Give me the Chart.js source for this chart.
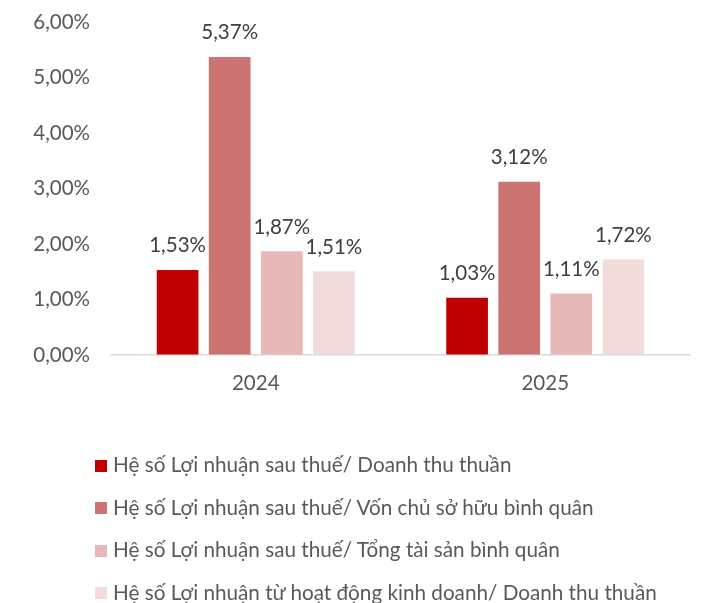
<!DOCTYPE html>
<html>
<head>
<meta charset="utf-8">
<script src="https://cdn.jsdelivr.net/npm/chart.js@4.4.1/dist/chart.umd.min.js"></script>
<style>
  html, body { margin: 0; padding: 0; background: #fff; }
  #wrap { position: relative; width: 706px; height: 603px; }
  #legend { position: absolute; left: 95px; top: 443px; font-family: Lato, sans-serif; font-size: 20.7px; color: #595959; }
  .item { height: 42.5px; line-height: 42.5px; white-space: nowrap; }
  .box { display: inline-block; width: 12px; height: 12px; margin-right: 6px; vertical-align: middle; position: relative; top: -1px; }
</style>
</head>
<body>
<div id="wrap">
  <canvas id="chart" width="706" height="603"></canvas>
  <div id="legend"></div>
</div>
<script>
// =========================
// DATA
// =========================
const years = ["2024", "2025"];

const seriesNames = [
  "Hệ số Lợi nhuận sau thuế/ Doanh thu thuần",
  "Hệ số Lợi nhuận sau thuế/ Vốn chủ sở hữu bình quân",
  "Hệ số Lợi nhuận sau thuế/ Tổng tài sản bình quân",
  "Hệ số Lợi nhuận từ hoạt động kinh doanh/ Doanh thu thuần"
];

const profitOnRevenue = [1.53, 1.03];
const profitOnEquity = [5.37, 3.12];
const profitOnAssets = [1.87, 1.11];
const operatingOnRevenue = [1.51, 1.72];

const colors = ["#C00000", "#CD7371", "#E6B8B7", "#F2DCDB"];

const fmt = v => v.toFixed(2).replace(".", ",") + "%";
const FONT = "Lato";
const FONT_SIZE = 20.5;

// =========================
// VALUE LABELS ABOVE BARS
// =========================
const valueLabels = {
  id: "valueLabels",
  afterDatasetsDraw(chart) {
    const ctx = chart.ctx;
    ctx.save();
    ctx.font = FONT_SIZE + "px " + FONT;
    ctx.fillStyle = "#404040";
    ctx.textAlign = "center";
    ctx.textBaseline = "bottom";
    chart.data.datasets.forEach((ds, i) => {
      chart.getDatasetMeta(i).data.forEach((bar, j) => {
        ctx.fillText(fmt(ds.data[j]), bar.x, bar.y - 14);
      });
    });
    ctx.restore();
  }
};

// =========================
// RENDER CHART
// =========================
const allSeries = [profitOnRevenue, profitOnEquity, profitOnAssets, operatingOnRevenue];

new Chart(document.getElementById("chart"), {
  type: "bar",
  data: {
    labels: years,
    datasets: allSeries.map((d, i) => ({
      label: seriesNames[i],
      data: d,
      backgroundColor: colors[i],
      categoryPercentage: 0.72,
      barPercentage: 0.8
    }))
  },
  options: {
    responsive: false,
    animation: false,
    layout: { padding: { top: 22, right: 16, bottom: 0, left: 0 } },
    plugins: {
      legend: { display: false },
      tooltip: { enabled: false }
    },
    scales: {
      x: {
        grid: { display: false, drawTicks: false },
        border: { color: "#D9D9D9", width: 1.5 },
        ticks: { color: "#595959", font: { family: FONT, size: FONT_SIZE }, padding: 16 },
        afterFit(scale) { scale.height = 248; }
      },
      y: {
        min: 0,
        max: 6,
        // invisible tick marks give the gap between labels and plot
        grid: { display: true, drawOnChartArea: false, drawTicks: true, tickLength: 21, color: "rgba(0,0,0,0)" },
        border: { display: false },
        ticks: {
          stepSize: 1,
          color: "#595959",
          font: { family: FONT, size: FONT_SIZE },
          padding: 0,
          callback: v => fmt(v)
        },
        afterFit(scale) { scale.width = 111; }
      }
    }
  },
  plugins: [valueLabels]
});

// =========================
// LEGEND
// =========================
const legend = document.getElementById("legend");
seriesNames.forEach((name, i) => {
  const row = document.createElement("div");
  row.className = "item";
  row.innerHTML = '<span class="box" style="background:' + colors[i] + '"></span>' + name;
  legend.appendChild(row);
});
</script>
</body>
</html>
